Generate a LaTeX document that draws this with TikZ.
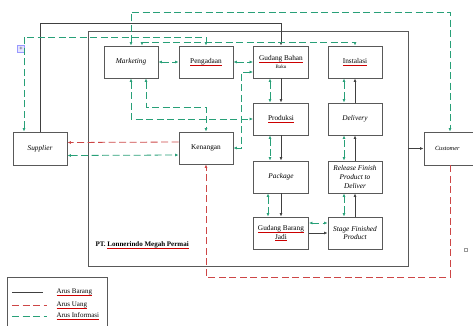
\documentclass[tikz,border=0pt]{standalone}
\usepackage{fontspec}
\setmainfont{Liberation Serif}
\usetikzlibrary{arrows.meta}
\definecolor{infog}{RGB}{40,160,120}
\definecolor{uangr}{RGB}{205,70,70}
\newcommand\sq[1]{\setbox0\hbox{#1}\rlap{\color{red!80!black}\rule[-1.3pt]{\wd0}{0.3pt}}\box0}

\begin{document}
\begin{tikzpicture}[x=1pt,y=-1pt,
    box/.style={draw=black!65,line width=0.9pt,minimum width=54pt,minimum height=32pt,
      align=center,inner sep=1pt,font=\fontsize{7.3}{8.6}\selectfont},
    barang/.style={draw=black!75,line width=0.8pt,-{Latex[length=3.5pt,width=3pt]}},
    uang/.style={draw=uangr,line width=0.8pt,dash pattern=on 7pt off 3.5pt,-{Latex[length=3.5pt,width=3pt]}},
    info/.style={draw=infog,line width=0.8pt,dash pattern=on 7pt off 3.5pt,
      {Latex[length=3.5pt,width=3pt]}-{Latex[length=3.5pt,width=3pt]}}]
  \useasboundingbox (0,0) rectangle (473,325);
  \clip (0,0) rectangle (473,325);
  % perusahaan
  \node [draw=black!65,line width=0.9pt,minimum width=320pt,minimum height=235pt] (pt) at (248,148.5) {};
  \node [anchor=west,font=\bfseries\fontsize{7}{8}\selectfont] (ptl) at (92,245) {PT. \sq{Lonnerindo Megah Permai}};
  \node [box] (mkt) at (131,62) {\itshape Marketing};
  \node [box] (pgd) at (206,62) {\sq{Pengadaan}};
  \node [box,minimum width=55pt] (gbb) at (281,62) {\sq{Gudang Bahan}\\[-1pt]{\fontsize{5}{5}\selectfont Baku}};
  \node [box] (ins) at (355,62) {\sq{Instalasi}};
  \node [box,minimum width=55pt] (prd) at (281,119) {\sq{Produksi}};
  \node [box] (dlv) at (355,119) {\itshape Delivery};
  \node [box] (keu) at (206,148) {Kenangan};
  \node [box,minimum height=33pt] (sup) at (40,148.5) {\itshape Supplier};
  \node [box,minimum width=55pt] (pkg) at (281,177) {\itshape Package};
  \node [box] (rel) at (355,177) {\itshape Release Finish\\\itshape Product to\\\itshape Deliver};
  \node [box,minimum width=55pt] (gbj) at (281,233) {\sq{Gudang Barang}\\\sq{Jadi}};
  \node [box] (sfp) at (355,233) {\itshape Stage Finished\\\itshape Product};
  \node [box,minimum width=52pt,minimum height=33pt,text width=48pt,align=left] (cus) at (450,148.5) {\hspace{9pt}\itshape\fontsize{6.3}{7}\selectfont Customer};
  \node [draw=blue!40,fill=blue!10,minimum size=7pt,inner sep=0pt,font=\fontsize{6}{6}\selectfont] (plus) at (21,49) {+};
  \node [draw=black!40,minimum size=3pt,inner sep=0pt] (sqr) at (466,250) {};
  \coordinate (tb) at (0,23);
  \coordinate (ti) at (0,12);
  \coordinate (tj) at (0,37);
  \coordinate (tk) at (0,42);
  \coordinate (th) at (0,107);
  \coordinate (tr) at (0,277);
  \coordinate (vf) at (241,0);
  % arus barang
  \draw [barang] (sup.north) -- (sup |- tb) -| (gbb.north);
  \draw [barang] (gbb) -- (prd);
  \draw [barang] (prd) -- (pkg);
  \draw [barang] (pkg) -- (gbj);
  \draw [barang] (gbj) -- (sfp);
  \draw [barang] (sfp) -- (rel);
  \draw [barang] (rel) -- (dlv);
  \draw [barang] (dlv) -- (ins);
  \draw [barang] (pt.east |- cus) -- (cus.west);
  % arus uang
  \draw [uang] ([yshift=6pt]keu.west) -- ([yshift=6pt]sup.east);
  \draw [uang] (cus.south) -- (cus |- tr) -| (keu.south);
  % arus informasi
  \draw [info] (mkt.north) -- (mkt |- ti) -| (cus.north);
  \draw [info] ([xshift=-16pt]sup.north) |- (pgd |- tj) -- (pgd.north);
  \draw [info] ([xshift=11pt]mkt.north) |- (ins |- tk) -- (ins.north);
  \draw [info] (mkt) -- (pgd);
  \draw [info] (pgd) -- (gbb);
  \draw [info] ([yshift=-10pt]gbb.west) -| (vf |- keu) -- (keu.east);
  \draw [info] (mkt.south) |- (prd.west);
  \draw [info] ([xshift=15pt]mkt.south) |- (keu |- th) -- (keu.north);
  \draw [info] ([yshift=-7pt]sup.east) -- ([yshift=-7pt]keu.west);
  \draw [info] ([xshift=-11pt]gbb.south) -- ([xshift=-11pt]prd.north);
  \draw [info] ([xshift=-11pt]prd.south) -- ([xshift=-11pt]pkg.north);
  \draw [info] ([xshift=-13pt]pkg.south) -- ([xshift=-13pt]gbj.north);
  \draw [info] ([yshift=10pt]gbj.east) -- ([yshift=10pt]sfp.west);
  \draw [info] ([xshift=-11pt]sfp.north) -- ([xshift=-11pt]rel.south);
  \draw [info] ([xshift=-11pt]rel.north) -- ([xshift=-11pt]dlv.south);
  \draw [info] ([xshift=-11pt]dlv.north) -- ([xshift=-11pt]ins.south);
  % keterangan
  \node [draw=black!65,line width=0.8pt,minimum width=100pt,minimum height=60pt,anchor=north west] (leg) at (7,277) {};
  \draw [black!75,line width=0.8pt] (12,292) -- (43,292);
  \draw [uangr,line width=0.8pt,dash pattern=on 7pt off 3.5pt] (12,305) -- (47,305);
  \draw [infog,line width=0.8pt,dash pattern=on 7pt off 3.5pt] (12,316) -- (47,316);
  \node [anchor=west,font=\fontsize{7}{7}\selectfont] (lb) at (53,292) {\sq{Arus Barang}};
  \node [anchor=west,font=\fontsize{7}{7}\selectfont] (lu) at (53,305) {\sq{Arus Uang}};
  \node [anchor=west,font=\fontsize{7}{7}\selectfont] (li) at (53,316) {\sq{Arus Informasi}};
\end{tikzpicture}
\end{document}
